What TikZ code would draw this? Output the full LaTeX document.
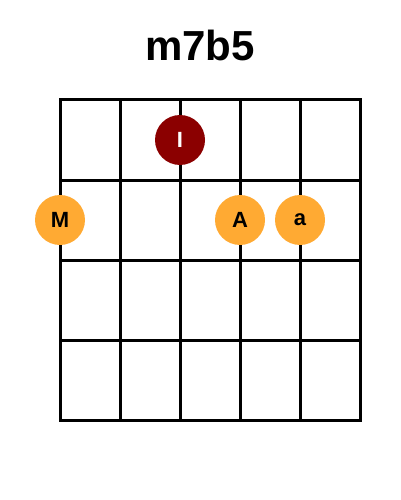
\documentclass[tikz,border=0pt]{standalone}
\usepackage{fontspec}
\setmainfont{Liberation Sans}
\usepackage{xcolor}
\definecolor{rootred}{RGB}{139, 0, 0}
\definecolor{toneorange}{RGB}{255, 170, 51}
\usetikzlibrary{positioning}

\begin{document}
\begin{tikzpicture}[
    x=1pt, y=-1pt,
    fret/.style={line width=3pt, line cap=rect},
    dot/.style={circle, inner sep=0pt, minimum size=50pt, font=\fontsize{22}{22}\selectfont\bfseries},
    root/.style={dot, fill=rootred, text=white},
    tone/.style={dot, fill=toneorange, text=black}
]
    \useasboundingbox (0, 0) rectangle (400, 500);

    \node[font=\fontsize{42}{42}\selectfont\bfseries] (title) at (200, 45) {m7b5};

    % Grid
    \foreach \x in {60, 120, 180, 240, 300, 360}
        \draw[fret] (\x, 100) -- (\x, 420);
    \foreach \y in {100, 180, 260, 340, 420}
        \draw[fret] (60, \y) -- (360, \y);

    % Notes
    \node[root] (root) at (180, 140) {I};
    \node[tone] (third) at (60, 220) {M};
    \node[tone] (fifth) at (240, 220) {A};
    \node[tone] (seventh) at (300, 220) {a};
\end{tikzpicture}
\end{document}
